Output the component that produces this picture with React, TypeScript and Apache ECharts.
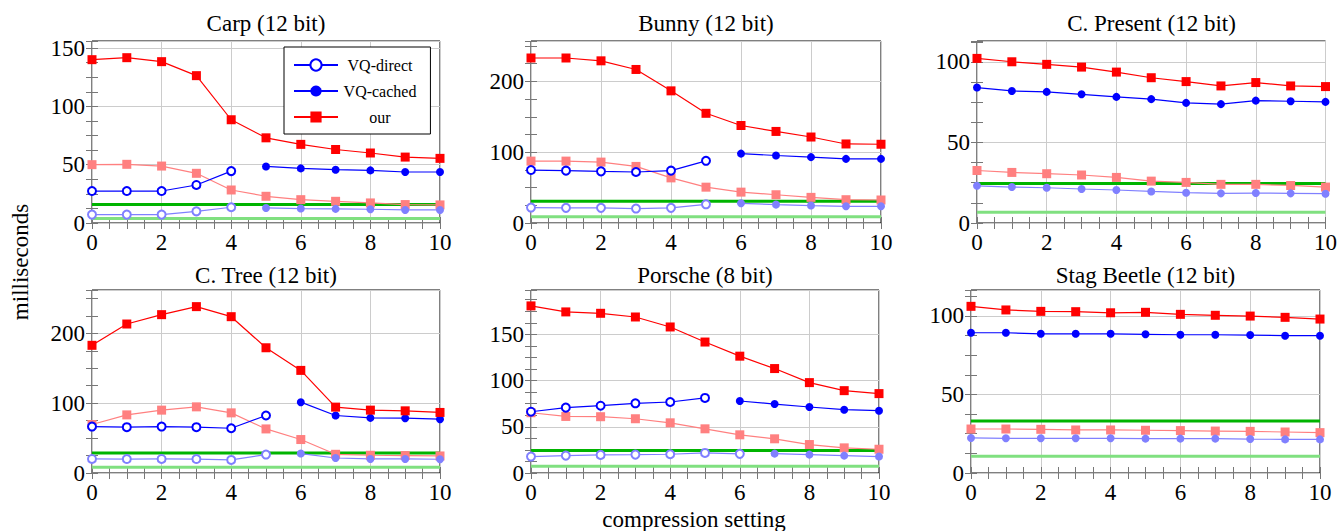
import React, { useEffect, useRef } from 'react';
import * as echarts from 'echarts';

const xValues = [0, 1, 2, 3, 4, 5, 6, 7, 8, 9, 10];

const panelTitles = ['Carp (12 bit)', 'Bunny (12 bit)', 'C. Present (12 bit)', 'C. Tree (12 bit)', 'Porsche (8 bit)', 'Stag Beetle (12 bit)'];

const N = null;
// Carp
const carpOur = [140, 141.7, 138.3, 126.3, 88.5, 73, 67.4, 63, 60, 56.5, 55.4];
const carpOurLight = [50, 50.3, 48.8, 42.6, 28.3, 22.9, 20, 18.6, 17.2, 15.8, 15.5];
const carpDirect = [27.4, 27.4, 27.4, 32.6, 44.5, N, N, N, N, N, N];
const carpCached = [N, N, N, N, N, 48.5, 46.8, 45.7, 45.1, 43.7, 43.7];
const carpDirectLight = [7.2, 7.2, 7.2, 10, 13.5, N, N, N, N, N, N];
const carpCachedLight = [N, N, N, N, N, 12.9, 12.4, 12.1, 11.8, 11.2, 11.2];
// Bunny
const bunnyOur = [233, 233, 229, 216.8, 186.6, 154.9, 137.7, 129.3, 121.4, 111.6, 111.2];
const bunnyOurLight = [87.4, 87.4, 86, 79.9, 63.7, 50.6, 43.6, 39.9, 36.2, 32.9, 32.5];
const bunnyDirect = [74.8, 73.9, 72.9, 72, 73.9, 87.8, N, N, N, N, N];
const bunnyCached = [N, N, N, N, N, N, 98, 95.3, 93, 90.6, 90.6];
const bunnyDirectLight = [21.8, 21.4, 21.4, 20.4, 21.4, 26.4, N, N, N, N, N];
const bunnyCachedLight = [N, N, N, N, N, N, 27.8, 26, 24.6, 23.6, 23.6];
// C. Present
const presentOur = [102.2, 100.1, 98.5, 96.8, 93.7, 90.2, 87.8, 85.1, 87.2, 85.1, 84.7];
const presentOurLight = [32.6, 31.4, 30.6, 29.8, 28.3, 26, 25.2, 24, 24, 23.3, 22.3];
const presentDirect = [N, N, N, N, N, N, N, N, N, N, N];
const presentCached = [84.1, 82, 81.4, 79.9, 78.3, 76.9, 74.6, 73.8, 76, 75.6, 75.2];
const presentDirectLight = [N, N, N, N, N, N, N, N, N, N, N];
const presentCachedLight = [23.1, 22.3, 21.9, 21.1, 20.5, 19.6, 18.8, 18.4, 18.6, 18.4, 18.2];
// C. Tree
const treeOur = [182.8, 213.3, 226.7, 238.2, 223.8, 179.3, 146.9, 94.3, 90, 89, 86.7];
const treeOurLight = [69.4, 83.2, 90, 94.7, 86.1, 63.1, 47.9, 26.8, 25.4, 25, 24.4];
const treeDirect = [66.5, 65.6, 66.5, 65.6, 64.1, 82.3, N, N, N, N, N];
const treeCached = [N, N, N, N, N, N, 101.4, 82.3, 78.9, 78.5, 77];
const treeDirectLight = [20.1, 20, 20.1, 20, 18.7, 26.4, N, N, N, N, N];
const treeCachedLight = [N, N, N, N, N, N, 27.8, 21.5, 20.1, 20.1, 19.7];
// Porsche
const porscheOur = [180.8, 174.3, 172.8, 168.8, 158, 141.7, 126.4, 113, 97.8, 89.1, 85.9];
const porscheOurLight = [65.2, 61.2, 60.9, 58.7, 54.3, 47.8, 41.3, 37, 30.8, 27.2, 25.7];
const porscheDirect = [66.3, 70.7, 72.8, 75.4, 76.8, 81.2, N, N, N, N, N];
const porscheCached = [N, N, N, N, N, N, 77.9, 74.6, 71.4, 68.5, 67.4];
const porscheDirectLight = [17.8, 18.8, 19.6, 19.9, 20.3, 21.7, 20.7, N, N, N, N];
const porscheCachedLight = [N, N, N, N, N, N, N, 21, 19.9, 18.8, 17.8];
// Stag Beetle
const stagOur = [106.1, 103.8, 102.9, 102.7, 102, 102.3, 101, 100.4, 99.9, 99.1, 98];
const stagOurLight = [28, 28, 27.8, 27.4, 27.4, 27.2, 27, 26.7, 26.5, 26.1, 25.7];
const stagDirect = [N, N, N, N, N, N, N, N, N, N, N];
const stagCached = [89.3, 89.3, 88.6, 88.6, 88.6, 88.3, 88, 88, 87.8, 87.4, 87.4];
const stagDirectLight = [N, N, N, N, N, N, N, N, N, N, N];
const stagCachedLight = [22.3, 22.1, 22.1, 22.1, 22.1, 21.9, 21.9, 21.9, 21.6, 21.4, 21.4];

const greenDark = [15.8, 30.6, 24.6, 28.7, 24.3, 33.1];
const greenLight = [3.8, 8.7, 6.7, 8.2, 7.2, 10.6];
const yMax = [156, 257, 113, 262, 198, 116.5];
const yMajor = [50, 100, 50, 100, 50, 50];

const ourSets = [carpOur, bunnyOur, presentOur, treeOur, porscheOur, stagOur];
const ourLightSets = [carpOurLight, bunnyOurLight, presentOurLight, treeOurLight, porscheOurLight, stagOurLight];
const directSets = [carpDirect, bunnyDirect, presentDirect, treeDirect, porscheDirect, stagDirect];
const cachedSets = [carpCached, bunnyCached, presentCached, treeCached, porscheCached, stagCached];
const directLightSets = [carpDirectLight, bunnyDirectLight, presentDirectLight, treeDirectLight, porscheDirectLight, stagDirectLight];
const cachedLightSets = [carpCachedLight, bunnyCachedLight, presentCachedLight, treeCachedLight, porscheCachedLight, stagCachedLight];

const FONT = 'Liberation Serif';
const RED = '#ff0000';
const RED_L = '#ff8080';
const BLUE = '#0000ff';
const BLUE_L = '#8080ff';
const GREEN = '#00b400';
const GREEN_L = '#80e080';

const boxes = [
  { left: 92, top: 41, width: 348, height: 182 },
  { left: 531, top: 41, width: 350, height: 182 },
  { left: 977, top: 41, width: 349, height: 182 },
  { left: 92, top: 290, width: 348, height: 183 },
  { left: 531, top: 290, width: 348, height: 183 },
  { left: 971, top: 290, width: 349, height: 183 },
];
const titleTops = [12, 12, 12, 264, 264, 264];

const bigText = { fontFamily: FONT, fontSize: 23, color: '#000' };

function toPoints(values: (number | null)[]) {
  const pts: number[][] = [];
  values.forEach((v, i) => {
    if (v !== null && v !== undefined) pts.push([xValues[i], v]);
  });
  return pts;
}

function makeSeries(name: string, values: (number | null)[], gi: number, color: string, kind: 'square' | 'open' | 'filled', z: number) {
  const data = toPoints(values);
  return {
    type: 'line',
    name,
    xAxisIndex: gi * 3,
    yAxisIndex: gi * 3,
    data,
    symbol: kind === 'square' ? 'rect' : kind === 'open' ? 'emptyCircle' : 'circle',
    symbolSize: kind === 'square' ? 9 : 8,
    showSymbol: true,
    showAllSymbol: true,
    clip: false,
    silent: true,
    lineStyle: { color, width: 1.2 },
    itemStyle: kind === 'open' ? { color, borderColor: color, borderWidth: 1.3 } : { color },
    z,
  };
}

export default function App() {
  const ref = useRef<HTMLDivElement>(null);
  useEffect(() => {
    if (!ref.current) return;
    const chart = echarts.init(ref.current, undefined, { renderer: 'svg' });
    const grids: any[] = [];
    const xAxes: any[] = [];
    const yAxes: any[] = [];
    const series: any[] = [];
    const titles: any[] = [];
    const tickStyle = { show: true, inside: true, length: 6, lineStyle: { color: '#777', width: 1 } };
    boxes.forEach((b, gi) => {
      grids.push({ ...b, show: true, borderColor: '#000', borderWidth: 1, backgroundColor: 'transparent' });
      titles.push({
        text: panelTitles[gi],
        left: b.left + b.width / 2,
        top: titleTops[gi],
        textAlign: 'center',
        padding: 0,
        textStyle: { ...bigText, fontWeight: 'normal' },
      });
      xAxes.push({
        gridIndex: gi, type: 'value', min: 0, max: 10, interval: 2, position: 'bottom',
        axisLine: { show: false }, axisTick: { show: false },
        axisLabel: { ...bigText, margin: 8 },
        splitLine: { show: true, lineStyle: { color: '#cccccc', width: 1 } },
      });
      xAxes.push({
        gridIndex: gi, type: 'value', min: 0, max: 10, interval: 0.5, position: 'bottom',
        axisLine: { show: false }, axisTick: tickStyle, axisLabel: { show: false }, splitLine: { show: false },
      });
      xAxes.push({
        gridIndex: gi, type: 'value', min: 0, max: 10, interval: 0.5, position: 'top',
        axisLine: { show: false }, axisTick: tickStyle, axisLabel: { show: false }, splitLine: { show: false },
      });
      yAxes.push({
        gridIndex: gi, type: 'value', min: 0, max: yMax[gi], interval: yMajor[gi], position: 'left',
        axisLine: { show: false }, axisTick: { show: false },
        axisLabel: { ...bigText, margin: 7, showMaxLabel: false,
          formatter: (v: number) => (v % yMajor[gi] === 0 ? String(v) : '') },
        splitLine: { show: true, lineStyle: { color: '#cccccc', width: 1 } },
      });
      yAxes.push({
        gridIndex: gi, type: 'value', min: 0, max: yMax[gi], interval: yMajor[gi] / 4, position: 'left',
        axisLine: { show: false }, axisTick: tickStyle, axisLabel: { show: false }, splitLine: { show: false },
      });
      yAxes.push({
        gridIndex: gi, type: 'value', min: 0, max: yMax[gi], interval: yMajor[gi] / 4, position: 'right',
        axisLine: { show: false }, axisTick: tickStyle, axisLabel: { show: false }, splitLine: { show: false },
      });

      const first = xValues[0];
      const last = xValues[xValues.length - 1];
      series.push({
        type: 'line', name: 'baseline', xAxisIndex: gi * 3, yAxisIndex: gi * 3, silent: true,
        data: [[first, greenDark[gi]], [last, greenDark[gi]]], symbol: 'none',
        lineStyle: { color: GREEN, width: 3 }, z: 1,
      });
      series.push({
        type: 'line', name: 'baseline (light)', xAxisIndex: gi * 3, yAxisIndex: gi * 3, silent: true,
        data: [[first, greenLight[gi]], [last, greenLight[gi]]], symbol: 'none',
        lineStyle: { color: GREEN_L, width: 3 }, z: 1,
      });
      series.push(makeSeries('our (light)', ourLightSets[gi], gi, RED_L, 'square', 2));
      series.push(makeSeries('VQ-direct (light)', directLightSets[gi], gi, BLUE_L, 'open', 2));
      series.push(makeSeries('VQ-cached (light)', cachedLightSets[gi], gi, BLUE_L, 'filled', 2));
      series.push(makeSeries('VQ-direct', directSets[gi], gi, BLUE, 'open', 3));
      series.push(makeSeries('VQ-cached', cachedSets[gi], gi, BLUE, 'filled', 3));
      series.push(makeSeries('our', ourSets[gi], gi, RED, 'square', 3));
    });

    chart.setOption({
      animation: false,
      backgroundColor: '#fff',
      textStyle: { fontFamily: FONT },
      title: titles,
      grid: grids,
      xAxis: xAxes,
      yAxis: yAxes,
      series,
      legend: {
        data: ['VQ-direct', 'VQ-cached', 'our'],
        orient: 'vertical',
        left: 284,
        top: 47,
        padding: [10, 14, 9, 9],
        itemWidth: 44,
        itemHeight: 14,
        itemGap: 10,
        selectedMode: false,
        backgroundColor: '#fff',
        borderColor: '#000',
        borderWidth: 1,
        borderRadius: 0,
        formatter: '{a|{name}}',
        textStyle: {
          fontFamily: FONT, fontSize: 16, color: '#000',
          rich: { a: { fontFamily: FONT, fontSize: 16, color: '#000', width: 74, align: 'center' } },
        },
        z: 10,
      },
      graphic: [
        {
          type: 'text', x: 20, y: 262, rotation: Math.PI / 2,
          style: { text: 'milliseconds', fontFamily: FONT, fontSize: 23, fill: '#000', align: 'center', verticalAlign: 'middle' },
        },
        {
          type: 'text', x: 694, y: 519,
          style: { text: 'compression setting', fontFamily: FONT, fontSize: 23, fill: '#000', align: 'center', verticalAlign: 'middle' },
        },
      ],
    });
    return () => chart.dispose();
  }, []);
  return <div ref={ref} style={{ position: 'fixed', left: 0, top: 0, width: 1340, height: 531 }} />;
}
